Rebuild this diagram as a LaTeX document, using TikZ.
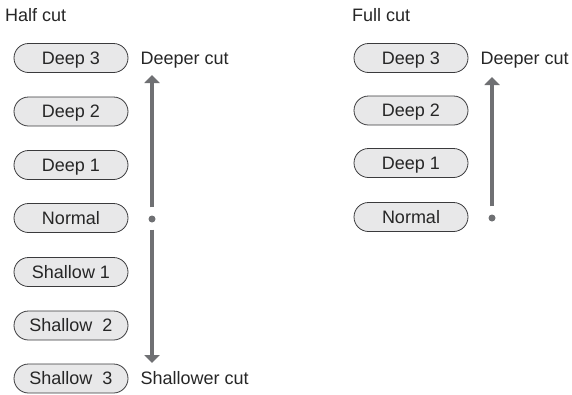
\documentclass[tikz,border=0pt]{standalone}
\usepackage{fontspec}
\setmainfont{Liberation Sans}
\usetikzlibrary{arrows.meta,positioning,shapes.misc}
\definecolor{pillfill}{HTML}{E8E8E9}
\definecolor{pillline}{HTML}{3A3A3C}
\definecolor{cutgray}{HTML}{6F7073}
\begin{document}
\begin{tikzpicture}[x=1pt,y=-1pt,
  font=\fontsize{18}{21}\selectfont,
  pill/.style={draw=pillline,fill=pillfill,line width=0.8pt,rounded rectangle,
    minimum width=114pt,minimum height=29pt,inner sep=0pt,
    text height=12.9pt,text depth=0pt,text=black!85},
  lbl/.style={inner sep=0pt,anchor=west,text height=12.9pt,text depth=0pt,text=black!85},
  cutdot/.style={circle,fill=cutgray,inner sep=0pt,minimum size=7pt},
  cutarrow/.style={draw=cutgray,line width=4pt,-{Triangle[width=15pt,length=8pt]}}]
\useasboundingbox (0,0) rectangle (572,394);
% half cut
\node[lbl] (half) at (5,15) {Half cut};
\node[pill] (hd3) at (71,58) {Deep 3};
\node[pill] (hd2) at (71,111.5) {Deep 2};
\node[pill] (hd1) at (71,165) {Deep 1};
\node[pill] (hn) at (71,218) {Normal};
\node[pill] (hs1) at (71,272) {Shallow 1};
\node[pill] (hs2) at (71,325.5) {Shallow\ \ 2};
\node[pill] (hs3) at (71,378.5) {Shallow\ \ 3};
\node[lbl,right=12pt of hd3] (hdeep) {Deeper cut};
\node[lbl,right=12pt of hs3] (hshallow) {Shallower cut};
\node[cutdot] (hdot) at (152,219) {};
\coordinate (htop) at (152,75);
\coordinate (hbot) at (152,363);
\draw[cutarrow,shorten <=8pt] (hdot) -- (htop);
\draw[cutarrow,shorten <=7pt] (hdot) -- (hbot);
% full cut
\node[lbl] (full) at (352,15) {Full cut};
\node[pill] (fd3) at (411,58) {Deep 3};
\node[pill] (fd2) at (411,110.5) {Deep 2};
\node[pill] (fd1) at (411,163) {Deep 1};
\node[pill] (fn) at (411,217) {Normal};
\node[lbl,right=12pt of fd3] (fdeep) {Deeper cut};
\node[cutdot] (fdot) at (492,218) {};
\coordinate (ftop) at (492,77);
\draw[cutarrow,shorten <=8pt] (fdot) -- (ftop);
\end{tikzpicture}
\end{document}
